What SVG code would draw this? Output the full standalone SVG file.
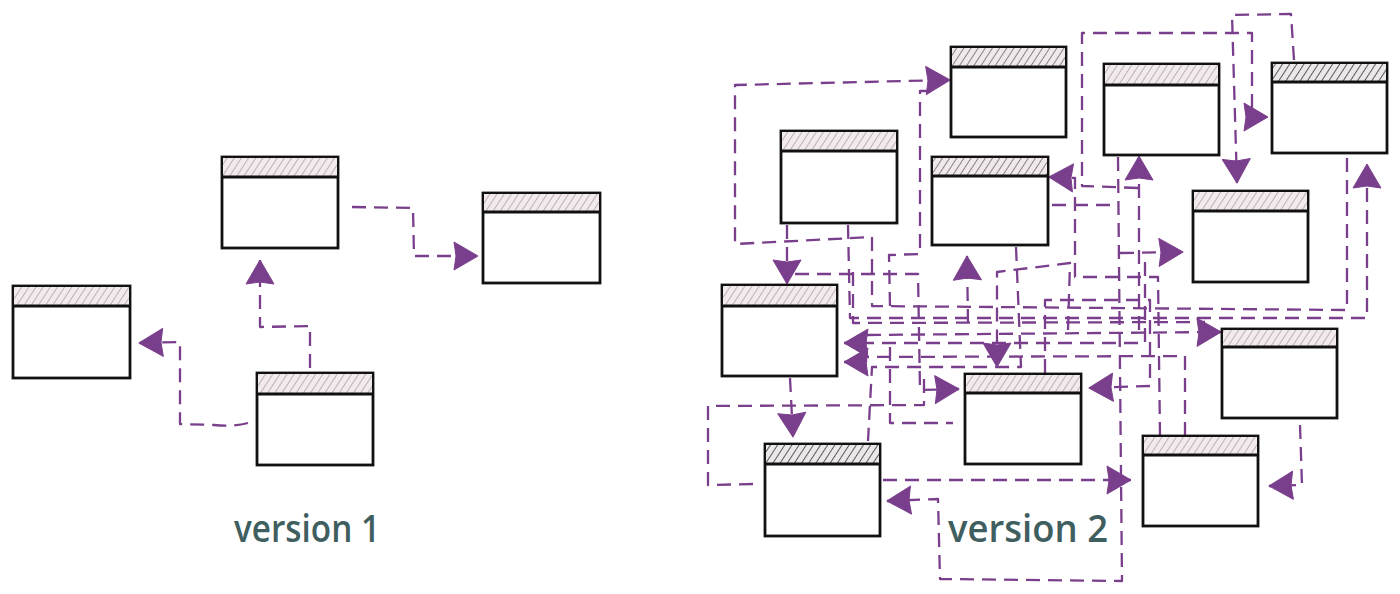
<svg xmlns="http://www.w3.org/2000/svg" width="1400" height="594" viewBox="0 0 1400 594">
<defs>
<pattern id="hatchL" patternUnits="userSpaceOnUse" width="6" height="6" patternTransform="rotate(33)">
<rect width="6" height="6" fill="#f1ebee"/><line x1="0" y1="0" x2="0" y2="6" stroke="#b09aa6" stroke-width="1.5"/>
</pattern>
<pattern id="hatchM" patternUnits="userSpaceOnUse" width="6" height="6" patternTransform="rotate(33)">
<rect width="6" height="6" fill="#efe9ec"/><line x1="0" y1="0" x2="0" y2="6" stroke="#6a5d66" stroke-width="1.5"/>
</pattern>
<pattern id="hatchD" patternUnits="userSpaceOnUse" width="6" height="6" patternTransform="rotate(33)">
<rect width="6" height="6" fill="#ece8ea"/><line x1="0" y1="0" x2="0" y2="6" stroke="#2a2a30" stroke-width="1.5"/>
</pattern>
<marker id="arr" markerUnits="userSpaceOnUse" markerWidth="30" markerHeight="30" viewBox="0 0 30 30" refX="24" refY="14" orient="auto" overflow="visible">
<path d="M0,0 L24,14 L0,28 L2,14 Z" fill="#7a3f8c" stroke="#7a3f8c" stroke-width="1" stroke-linejoin="round"/>
</marker>
</defs>
<style>
.box{fill:#fff;stroke:#111;stroke-width:2.8}
.hl{stroke:#111;stroke-width:2.8}
.c{fill:none;stroke:#7a3f8c;stroke-width:2.3;stroke-dasharray:14 8;stroke-linejoin:round}
.a{marker-end:url(#arr)}
.lbl{font-family:"Open Sans","Lato",sans-serif;font-size:38px;font-weight:600;fill:#3f5e5f}
</style>
<rect width="1400" height="594" fill="#fff"/>

<g id="connectors">
<!-- version 1 -->
<path class="c a" d="M352 207 L413 208 L414 256 L478 256"/>
<path class="c a" d="M310 368 L310 326 L260 327 L260 260"/>
<path class="c a" d="M248 423 Q232 427 214 425 L180 424 L180 342 L139 343"/>
<!-- version 2 -->
<path class="c a" d="M1347 158 L1347 310 L872 306 L872 237 L735 244 L735 85 L950 80"/>
<path class="c" d="M890 306 L889 255 L920 254 L920 91 L938 91"/>
<path class="c a" d="M1294 60 L1291 14 L1232 15 L1237 183"/>
<path class="c a" d="M1138 188 L1082 186 L1082 33 L1252 33 L1252 117 L1268 117"/>
<path class="c a" d="M1139 330 L1139 156"/>
<path class="c a" d="M1160 436 L1158 277 L1075 277 L1075 178 L1049 177"/>
<path class="c a" d="M1118 157 L1122 581 L940 579 L938 499 L887 501"/>
<path class="c" d="M1052 205 L1118 205"/>
<path class="c a" d="M787 225 L787 284"/>
<path class="c a" d="M795 274 L918 274 L920 390 L959 389"/>
<path class="c a" d="M848 225 L850 318 L1367 318 L1367 164"/>
<path class="c a" d="M968 323 L967 256"/>
<path class="c a" d="M1145 262 L1145 343 L844 343"/>
<path class="c a" d="M1185 436 L1185 356 L866 357 L866 362 L844 362"/>
<path class="c a" d="M1045 373 L1045 300 L1150 300 L1150 386 L1089 388"/>
<path class="c" d="M853 272 L853 323 L1205 322"/>
<path class="c a" d="M867 335 L1221 332"/>
<path class="c a" d="M1068 330 L1070 263 L997 272 L997 367"/>
<path class="c" d="M1016 247 L1021 367 L872 367 L868 441"/>
<path class="c" d="M753 484 L708 485 L708 406 L924 405 L924 372"/>
<path class="c a" d="M790 378 L793 437"/>
<path class="c" d="M890 347 L890 423 L953 423"/>
<path class="c a" d="M883 480 L1131 480"/>
<path class="c a" d="M1300 425 L1302 485 L1269 486"/>
<path class="c a" d="M1120 253 L1183 252"/>
</g>

<g id="node-a"><rect class="box" x="222" y="157" width="116" height="91"/><rect x="223" y="158" width="114" height="19" fill="url(#hatchL)"/><line class="hl" x1="222" y1="177" x2="338" y2="177"/></g>
<g id="node-b"><rect class="box" x="483" y="193" width="117" height="90"/><rect x="484" y="194" width="115" height="18" fill="url(#hatchL)"/><line class="hl" x1="483" y1="212" x2="600" y2="212"/></g>
<g id="node-c"><rect class="box" x="13" y="286" width="117" height="92"/><rect x="14" y="287" width="115" height="19" fill="url(#hatchL)"/><line class="hl" x1="13" y1="306" x2="130" y2="306"/></g>
<g id="node-d"><rect class="box" x="257" y="373" width="116" height="92"/><rect x="258" y="374" width="114" height="20" fill="url(#hatchL)"/><line class="hl" x1="257" y1="394" x2="373" y2="394"/></g>

<g id="node-e"><rect class="box" x="781" y="131" width="116" height="92"/><rect x="782" y="132" width="114" height="19" fill="url(#hatchL)"/><line class="hl" x1="781" y1="151" x2="897" y2="151"/></g>
<g id="node-f"><rect class="box" x="951" y="47" width="115" height="90"/><rect x="952" y="48" width="113" height="19" fill="url(#hatchM)"/><line class="hl" x1="951" y1="67" x2="1066" y2="67"/></g>
<g id="node-g"><rect class="box" x="1104" y="64" width="115" height="91"/><rect x="1105" y="65" width="113" height="20" fill="url(#hatchL)"/><line class="hl" x1="1104" y1="85" x2="1219" y2="85"/></g>
<g id="node-h"><rect class="box" x="1272" y="63" width="115" height="90"/><rect x="1273" y="64" width="113" height="18" fill="url(#hatchD)"/><line class="hl" x1="1272" y1="82" x2="1387" y2="82"/></g>
<g id="node-i"><rect class="box" x="932" y="157" width="116" height="88"/><rect x="933" y="158" width="114" height="18" fill="url(#hatchM)"/><line class="hl" x1="932" y1="176" x2="1048" y2="176"/></g>
<g id="node-j"><rect class="box" x="1193" y="191" width="115" height="91"/><rect x="1194" y="192" width="113" height="19" fill="url(#hatchL)"/><line class="hl" x1="1193" y1="211" x2="1308" y2="211"/></g>
<g id="node-k"><rect class="box" x="722" y="285" width="115" height="91"/><rect x="723" y="286" width="113" height="20" fill="url(#hatchL)"/><line class="hl" x1="722" y1="306" x2="837" y2="306"/></g>
<g id="node-l"><rect class="box" x="1222" y="329" width="115" height="89"/><rect x="1223" y="330" width="113" height="17" fill="url(#hatchL)"/><line class="hl" x1="1222" y1="347" x2="1337" y2="347"/></g>
<g id="node-m"><rect class="box" x="965" y="374" width="116" height="90"/><rect x="966" y="375" width="114" height="18" fill="url(#hatchL)"/><line class="hl" x1="965" y1="393" x2="1081" y2="393"/></g>
<g id="node-n"><rect class="box" x="765" y="444" width="115" height="92"/><rect x="766" y="445" width="113" height="19" fill="url(#hatchD)"/><line class="hl" x1="765" y1="464" x2="880" y2="464"/></g>
<g id="node-o"><rect class="box" x="1143" y="436" width="115" height="90"/><rect x="1144" y="437" width="113" height="18" fill="url(#hatchL)"/><line class="hl" x1="1143" y1="455" x2="1258" y2="455"/></g>

<text class="lbl" x="234" y="542" textLength="146" lengthAdjust="spacingAndGlyphs">version 1</text>
<text class="lbl" x="948" y="542" textLength="160" lengthAdjust="spacingAndGlyphs">version 2</text>
</svg>
